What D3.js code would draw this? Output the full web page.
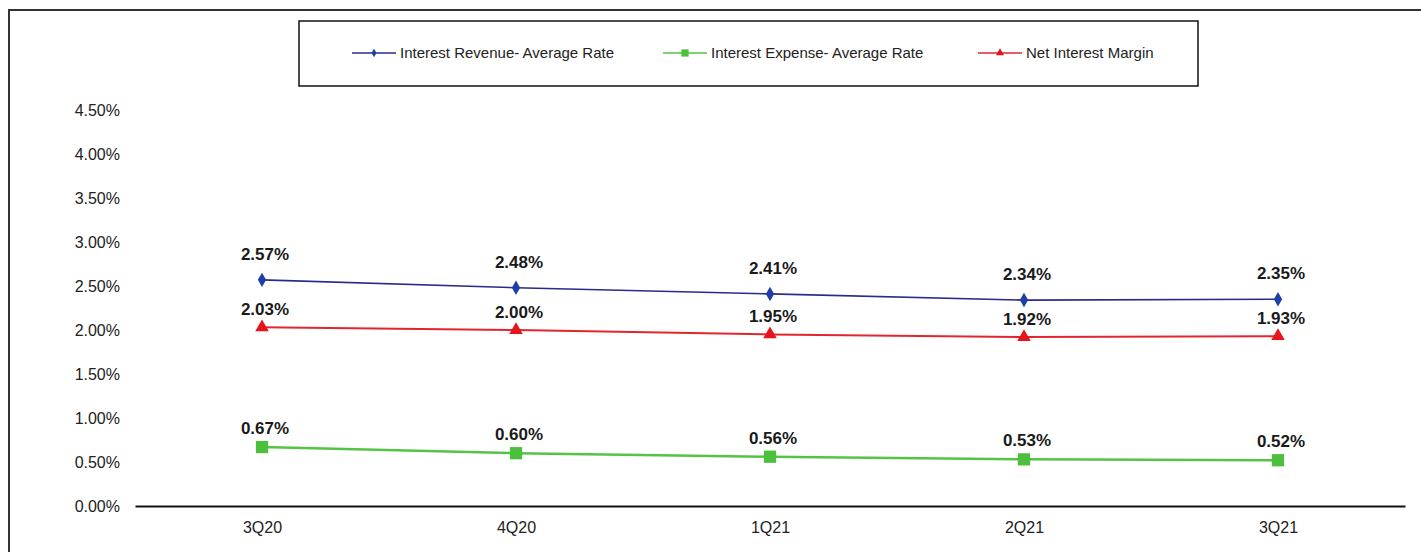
<!DOCTYPE html>
<html>
<head>
<meta charset="utf-8">
<script src="https://cdn.jsdelivr.net/npm/d3@7"></script>
<style>
  body { margin: 0; background: #fff; }
  svg { display: block; font-family: "Liberation Sans", Arial, sans-serif; }
</style>
</head>
<body>
<svg width="1421" height="552"></svg>
<script>
var quarters = ["3Q20", "4Q20", "1Q21", "2Q21", "3Q21"];
var revenueRate = [2.57, 2.48, 2.41, 2.34, 2.35];
var expenseRate = [0.67, 0.60, 0.56, 0.53, 0.52];
var netMargin = [2.03, 2.00, 1.95, 1.92, 1.93];
var yTicks = [0, 0.5, 1, 1.5, 2, 2.5, 3, 3.5, 4, 4.5];

var svg = d3.select("svg"),
    width = +svg.attr("width"),
    height = +svg.attr("height");

// outer frame (right/bottom edges run off the picture)
svg.append("path")
    .attr("d", "M9,552 V10 H1421")
    .attr("fill", "none")
    .attr("stroke", "#333")
    .attr("stroke-width", 2);

var x = d3.scalePoint().domain(quarters).range([135, 1405]).padding(0.5);
var y = d3.scaleLinear().domain([0, 4.5]).range([506, 110]);

var series = [
  { name: "Interest Revenue- Average Rate", values: revenueRate, line: "#2a2a8c", fill: "#1f3fa6", width: 1.6, symbol: d3.symbolDiamond, size: 60, labelOff: 20, lx: 352 },
  { name: "Interest Expense- Average Rate", values: expenseRate, line: "#55c345", fill: "#4cbf3c", width: 2.5, symbol: d3.symbolSquare, size: 150, labelOff: 13, lx: 663 },
  { name: "Net Interest Margin", values: netMargin, line: "#e2262e", fill: "#e8141c", width: 2, symbol: d3.symbolTriangle, size: 80, labelOff: 12, lx: 978 }
];

// y axis labels
svg.append("g").selectAll("text")
    .data(yTicks)
    .enter().append("text")
    .attr("x", 120)
    .attr("y", function (d) { return y(d); })
    .attr("dy", "0.35em")
    .attr("text-anchor", "end")
    .attr("font-size", 16)
    .attr("fill", "#222")
    .text(function (d) { return d.toFixed(2) + "%"; });

// x axis
var xAxis = svg.append("g")
    .attr("transform", "translate(0," + y(0) + ")")
    .call(d3.axisBottom(x).tickSize(0).tickPadding(16));
xAxis.select(".domain").attr("stroke", "#111").attr("stroke-width", 2);
xAxis.selectAll("text")
    .attr("font-size", 16)
    .attr("font-family", "Liberation Sans, Arial, sans-serif")
    .attr("fill", "#222");

var line = d3.line()
    .x(function (d, i) { return x(quarters[i]); })
    .y(function (d) { return y(d); });

series.forEach(function (s) {
  var g = svg.append("g");
  g.append("path")
      .datum(s.values)
      .attr("d", line)
      .attr("fill", "none")
      .attr("stroke", s.line)
      .attr("stroke-width", s.width);

  g.selectAll(".pt")
      .data(s.values)
      .enter().append("path")
      .attr("class", "pt")
      .attr("transform", function (d, i) { return "translate(" + x(quarters[i]) + "," + y(d) + ")"; })
      .attr("d", d3.symbol().type(s.symbol).size(s.size))
      .attr("fill", s.fill);

  g.selectAll(".lbl")
      .data(s.values)
      .enter().append("text")
      .attr("class", "lbl")
      .attr("x", function (d, i) { return x(quarters[i]) + 3; })
      .attr("y", function (d) { return y(d) - s.labelOff; })
      .attr("text-anchor", "middle")
      .attr("font-size", 17)
      .attr("font-weight", "bold")
      .attr("fill", "#1a1a1a")
      .text(function (d) { return d.toFixed(2) + "%"; });
});

// legend
var legend = svg.append("g");
legend.append("rect")
    .attr("x", 299).attr("y", 21)
    .attr("width", 899).attr("height", 65)
    .attr("fill", "#fff")
    .attr("stroke", "#111")
    .attr("stroke-width", 1.5);

series.forEach(function (s) {
  var item = legend.append("g").attr("transform", "translate(" + s.lx + ",53)");
  item.append("line")
      .attr("x1", 0).attr("x2", 44)
      .attr("stroke", s.line)
      .attr("stroke-width", 1.5);
  item.append("path")
      .attr("transform", "translate(22,0)")
      .attr("d", d3.symbol().type(s.symbol).size(s.size * 0.35))
      .attr("fill", s.fill);
  item.append("text")
      .attr("x", 48)
      .attr("dy", "0.35em")
      .attr("font-size", 15)
      .attr("fill", "#222")
      .text(s.name);
});
</script>
</body>
</html>
